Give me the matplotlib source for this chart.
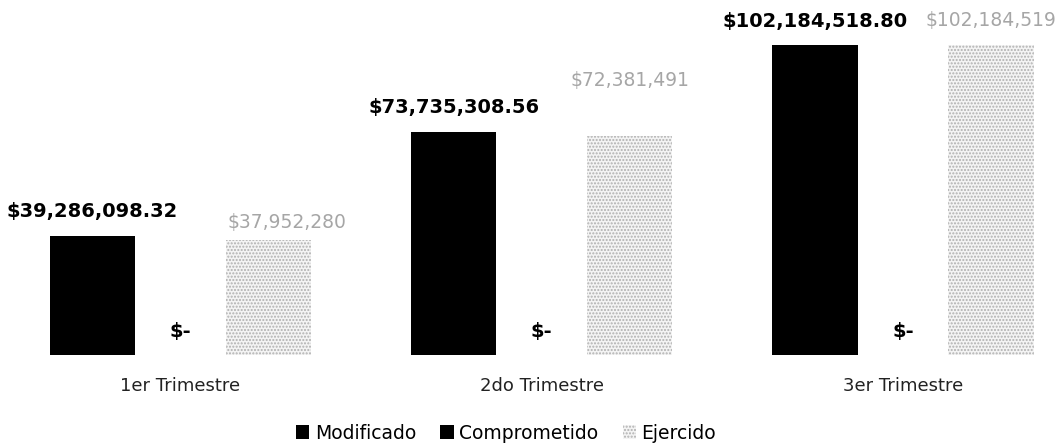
import numpy as np
import matplotlib.pyplot as plt

# data
trimestres = ["1er Trimestre", "2do Trimestre", "3er Trimestre"]
modificado = [39286098.32, 73735308.56, 102184518.80]
comprometido = [0, 0, 0]
ejercido = [37952280, 72381491, 102184519]
series_names = ["Modificado", "Comprometido", "Ejercido"]

# offset (points) of the Ejercido labels from their bar tops, as placed in the original
ej_offsets = [(13, 6), (0, 33), (0, 11)]

plt.rcParams['hatch.linewidth'] = 1.0
plt.rcParams['hatch.color'] = '#8c8c8c'

fig = plt.figure(figsize=(10.6, 4.44), dpi=100)
ax = fig.add_axes([0, 89 / 444, 1, 355 / 444])

x = np.arange(len(trimestres))
step = 0.2436
w = 0.236

b1 = ax.bar(x - step, modificado, w, color='black', label=series_names[0])
b2 = ax.bar(x, comprometido, w, color='black', label=series_names[1])
b3 = ax.bar(x + step, ejercido, w, facecolor='#f4f4f4', edgecolor='#b0b0b0',
            linewidth=0, hatch='.....', label=series_names[2])

for xi, v in zip(x - step, modificado):
    ax.annotate(f"${v:,.2f}", (xi, v), xytext=(0, 10.5), textcoords='offset points',
                ha='center', va='bottom', fontsize=14, fontweight='bold', color='black')

for xi, v in zip(x, comprometido):
    ax.annotate("$-", (xi, v), xytext=(0, 17), textcoords='offset points',
                ha='center', va='center', fontsize=14, fontweight='bold', color='black')

for xi, v, off in zip(x + step, ejercido, ej_offsets):
    ax.annotate(f"${v:,.0f}", (xi, v), xytext=off, textcoords='offset points',
                ha='center', va='bottom', fontsize=13.5, color='#a6a6a6')

ax.set_xlim(-0.4997, 2.4346)
ax.set_ylim(0, 117.2e6)
ax.set_xticks(x)
ax.set_xticklabels(trimestres, fontsize=13, color='#222222')
ax.tick_params(axis='x', length=0, pad=16)
ax.set_yticks([])
for s in ax.spines.values():
    s.set_visible(False)

fig.legend(handles=[b1, b2, b3], labels=series_names, loc='center',
           bbox_to_anchor=(506 / 1060, 1 - 433 / 444), ncol=3, frameon=False, fontsize=13.5,
           handlelength=0.7, handleheight=0.7, handletextpad=0.3, columnspacing=1.3)

fig.savefig("out.png", dpi=100)
